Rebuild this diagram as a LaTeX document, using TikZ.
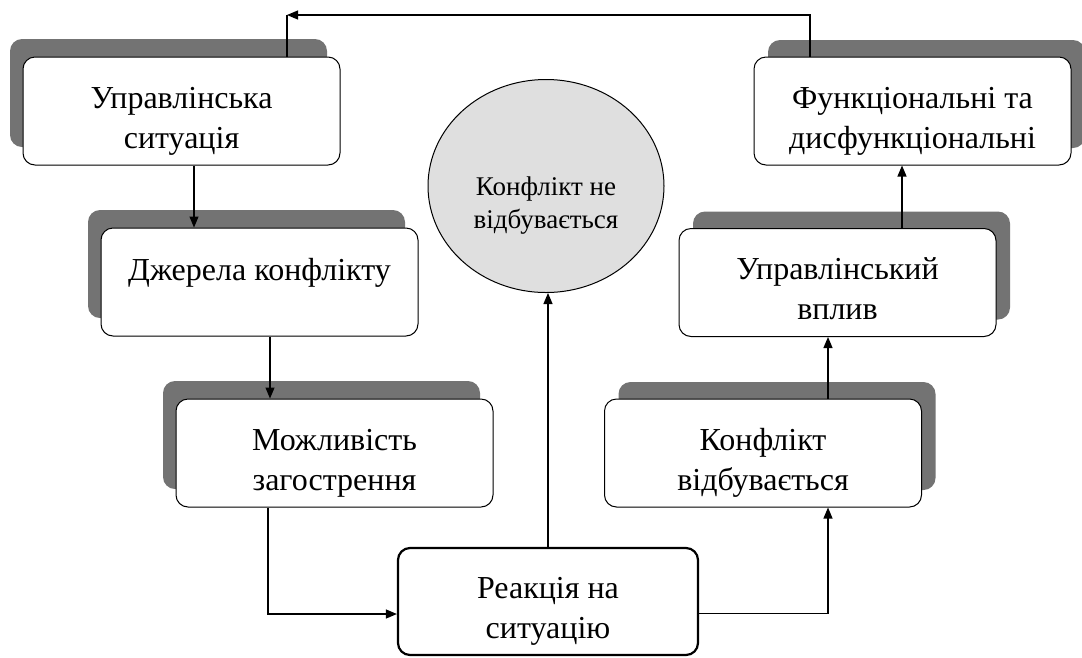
\documentclass[tikz,border=0pt]{standalone}
\usepackage{fontspec}
\setmainfont{Liberation Serif}
\usetikzlibrary{arrows.meta,shapes.geometric,shadows}

\tikzset{
  box/.style={draw,rounded corners=12pt,fill=white,line width=1pt,
    minimum width=317pt,minimum height=108pt,inner sep=0pt,align=center,
    text height=74pt,text depth=0pt,font=\fontsize{32}{40}\selectfont},
  leftbox/.style={box,general shadow={fill=black!55,shadow xshift=-13pt,shadow yshift=18pt}},
  rightbox/.style={box,general shadow={fill=black!55,shadow xshift=14pt,shadow yshift=17pt}},
  arr/.style={line width=1.2pt,-{Triangle[length=11pt,width=9pt]}}
}

\begin{document}
\begin{tikzpicture}[x=1pt,y=-1pt]
  \useasboundingbox (0,0) rectangle (1082,657);

  %left column
  \node[leftbox] (u) at (181.5,111) {Управлінська\\ситуація};
  \node[leftbox,text height=34pt,text depth=38pt] (d) at (259.5,282) {Джерела конфлікту};
  \node[leftbox] (m) at (334.5,453) {Можливість\\загострення};

  %right column
  \node[rightbox] (k) at (763,453) {Конфлікт\\відбувається};
  \node[rightbox] (v) at (837.5,282.5) {Управлінський\\вплив};
  \node[rightbox] (f) at (912.5,111) {Функціональні та\\дисфункціональні};

  %centre
  \node[box,line width=2.2pt,minimum width=300pt,minimum height=107pt] (r) at (548,601.5) {Реакція на\\ситуацію};
  \node[draw,ellipse,fill=gray!25,line width=1pt,minimum width=236pt,minimum height=213pt,
    align=center,text height=84pt,text depth=0pt,font=\fontsize{27}{33}\selectfont]
    (e) at (546,186) {Конфлікт не\\відбувається};

  %connectors
  \draw[arr] (u.south -| 194,0) -- (d.north -| 194,0);
  \draw[arr] (d.south -| 270,0) -- (m.north -| 270,0);
  \draw[arr] (m.south -| 268,0) |- ([yshift=-12.5pt]r.west);
  \draw[arr] ([yshift=-12pt]r.east) -| (k.south -| 828,0);
  \draw[arr] (r.north) -- (r.north |- e.south);
  \draw[arr] (k.north -| 828,0) -- (v.south -| 828,0);
  \draw[arr] (v.north -| 902,0) -- (f.south -| 902,0);

  %feedback line over the top
  \coordinate (top) at (287,15);
  \draw[arr] (f.north -| 810,0) |- (top);
  \draw[line width=1.2pt] (top) -- (u.north -| top);
\end{tikzpicture}
\end{document}
